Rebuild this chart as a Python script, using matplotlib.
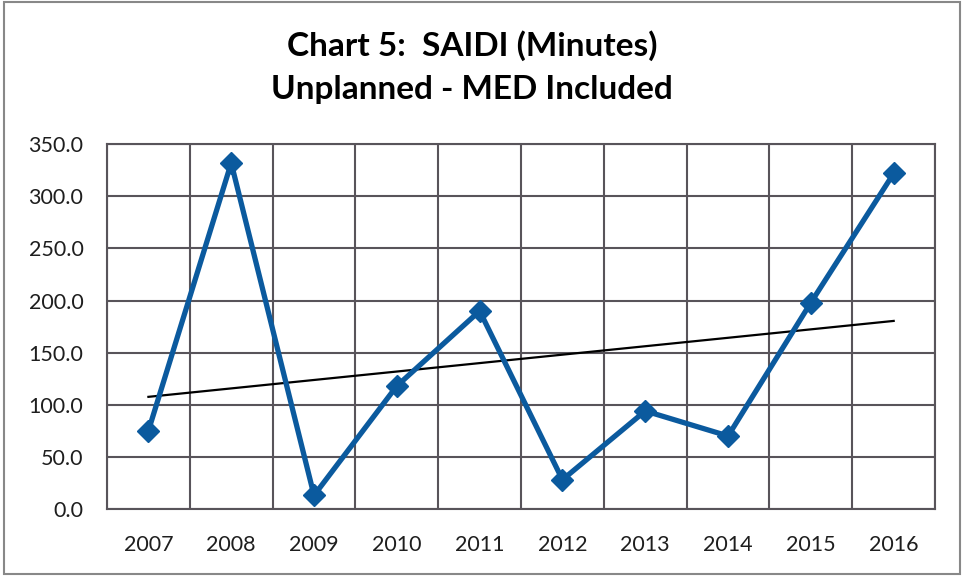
import numpy as np
import matplotlib.pyplot as plt
from matplotlib.patches import Rectangle

years = ["2007", "2008", "2009", "2010", "2011", "2012", "2013", "2014", "2015", "2016"]
saidi = [75, 332, 13, 118, 190, 28, 94, 70, 198, 322]
yticks = [0, 50, 100, 150, 200, 250, 300, 350]

plt.rcParams['font.family'] = ['Lato', 'DejaVu Sans']

fig = plt.figure(figsize=(9.64, 5.77), dpi=100)
ax = fig.add_axes([0.111, 0.118, 0.859, 0.632])

x = np.arange(len(years))
# linear trend line, fitted from the data
k, b = np.polyfit(x, saidi, 1)
ax.plot(x, k * x + b, color='black', lw=1.6, zorder=3)
ax.plot(x, saidi, color='#0b5a9e', lw=3.8, marker='D', markersize=11.5, zorder=4)

ax.set_xlim(-0.5, len(years) - 0.5)
ax.set_ylim(0, 350)
ax.set_yticks(yticks)
ax.set_yticklabels(["%.1f" % v for v in yticks])
ax.set_xticks(x)
ax.set_xticklabels(years)
ax.set_xticks(np.arange(-0.5, len(years), 1), minor=True)

ax.grid(True, axis='y', which='major', color='#58545a', lw=1.5)
ax.grid(True, axis='x', which='minor', color='#58545a', lw=1.5)
ax.set_axisbelow(True)
for s in ax.spines.values():
    s.set_color('#58545a')
    s.set_linewidth(1.5)
ax.tick_params(which='both', length=0)
ax.tick_params(axis='y', pad=17, labelsize=15.5, labelcolor='#1e1e1e')
ax.tick_params(axis='x', pad=19, labelsize=15.5, labelcolor='#1e1e1e')

fig.text(0.49, 0.921, "Chart 5:  SAIDI (Minutes)", ha='center', va='center',
         fontsize=24, fontweight='bold')
fig.text(0.49, 0.845, "Unplanned - MED Included", ha='center', va='center',
         fontsize=24, fontweight='bold')

fig.patches.append(Rectangle((0.004, 0.006), 0.992, 0.99, transform=fig.transFigure,
                             fill=False, edgecolor='#888888', lw=1.5))

plt.savefig("out.png")
